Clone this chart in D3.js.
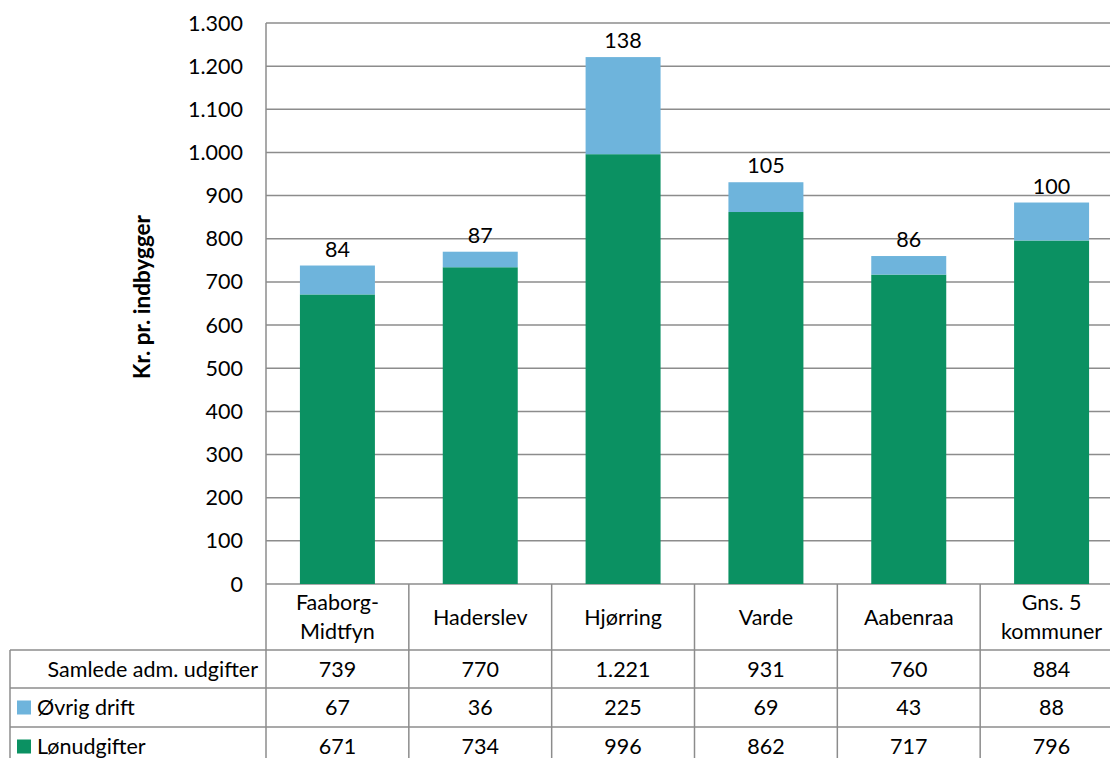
<!DOCTYPE html>
<html><head><meta charset="utf-8">
<script src="https://cdn.jsdelivr.net/npm/d3@7"></script>
<style>
html,body{margin:0;padding:0;background:#fff;}
svg{display:block;font-family:Lato,"Open Sans",sans-serif;}
</style></head>
<body>
<svg id="c" width="1110" height="758"></svg>
<script>
const categories = [["Faaborg-","Midtfyn"],["Haderslev"],["Hjørring"],["Varde"],["Aabenraa"],["Gns. 5","kommuner"]];
const catKeys = ["Faaborg-Midtfyn","Haderslev","Hjørring","Varde","Aabenraa","Gns. 5 kommuner"];
const lonudgifter = [671, 734, 996, 862, 717, 796];
const ovrigDrift = [67, 36, 225, 69, 43, 88];
const samlede = ["739","770","1.221","931","760","884"];
const topLabels = [84, 87, 138, 105, 86, 100];
const yTicks = [0,100,200,300,400,500,600,700,800,900,1000,1100,1200,1300];
const seriesNames = ["Øvrig drift","Lønudgifter"];
const colors = {green:"#0B9162", blue:"#6EB4DC", grid:"#8C8C8C"};

(function(){
const svg = d3.select("#c");
const pLeft = 266, pRight = 1123, pTop = 23, pBottom = 584;
const FS = 21.5;
const x = d3.scaleBand().domain(catKeys).range([pLeft, pRight]).paddingInner(0).paddingOuter(0);
const y = d3.scaleLinear().domain([0,1300]).range([pBottom, pTop]);
const fmt = v => d3.format(",")(v).replace(/,/g,".");

// gridlines
svg.append("g").selectAll("line").data(yTicks).join("line")
  .attr("x1", pLeft).attr("x2", pRight)
  .attr("y1", d=>y(d)).attr("y2", d=>y(d))
  .attr("stroke", colors.grid).attr("stroke-width", 1.5);

// y tick labels
svg.append("g").selectAll("text").data(yTicks).join("text")
  .attr("x", 243).attr("y", d=>y(d)).attr("dy","0.35em")
  .attr("text-anchor","end").attr("font-size",FS).attr("fill","#000")
  .text(d=>fmt(d));

// y title
svg.append("text").attr("transform","translate(142,297) rotate(-90)")
  .attr("text-anchor","middle").attr("dy","0.35em").attr("font-size",22.5).attr("font-weight","bold")
  .text("Kr. pr. indbygger");

// bars
const bw = x.bandwidth()*0.525;
const bars = svg.append("g");
catKeys.forEach((k,i)=>{
  const cx = x(k) + x.bandwidth()/2;
  bars.append("rect").attr("x", cx-bw/2).attr("width", bw)
    .attr("y", y(lonudgifter[i])).attr("height", y(0)-y(lonudgifter[i]))
    .attr("fill", colors.green);
  const t = lonudgifter[i]+ovrigDrift[i];
  bars.append("rect").attr("x", cx-bw/2).attr("width", bw)
    .attr("y", y(t)).attr("height", y(lonudgifter[i])-y(t))
    .attr("fill", colors.blue);
  svg.append("text").attr("x", cx).attr("y", y(t)-9)
    .attr("text-anchor","middle").attr("font-size",FS).text(topLabels[i]);
});

// table
const tg = svg.append("g").attr("stroke", colors.grid).attr("stroke-width",1.5);
const rowY = [650, 688, 727, 766];
tg.append("line").attr("x1",pLeft).attr("x2",pLeft).attr("y1",pTop).attr("y2",758);
rowY.forEach(ry=> tg.append("line").attr("x1",10).attr("x2",pRight).attr("y1",ry).attr("y2",ry));
tg.append("line").attr("x1",10).attr("x2",10).attr("y1",650).attr("y2",758);
catKeys.forEach(k=>{
  tg.append("line").attr("x1",x(k)+x.bandwidth()).attr("x2",x(k)+x.bandwidth()).attr("y1",pBottom).attr("y2",758);
});

// category labels and values
catKeys.forEach((k,i)=>{
  const cx = x(k)+x.bandwidth()/2;
  const lines = categories[i];
  const cy = 617;
  lines.forEach((ln,j)=>{
    svg.append("text").attr("x",cx).attr("y", cy + (j-(lines.length-1)/2)*29)
      .attr("dy","0.35em").attr("text-anchor","middle").attr("font-size",FS).text(ln);
  });
  svg.append("text").attr("x",cx).attr("y",(650+688)/2).attr("dy","0.35em")
    .attr("text-anchor","middle").attr("font-size",FS).text(samlede[i]);
  svg.append("text").attr("x",cx).attr("y",(688+727)/2).attr("dy","0.35em")
    .attr("text-anchor","middle").attr("font-size",FS).text(ovrigDrift[i]);
  svg.append("text").attr("x",cx).attr("y",(727+766)/2).attr("dy","0.35em")
    .attr("text-anchor","middle").attr("font-size",FS).text(lonudgifter[i]);
});

// row headers
svg.append("text").attr("x",258).attr("y",(650+688)/2).attr("dy","0.35em")
  .attr("text-anchor","end").attr("font-size",FS).text("Samlede adm. udgifter");
[[seriesNames[0],colors.blue,(688+727)/2],[seriesNames[1],colors.green,(727+766)/2]].forEach(([n,c,cy])=>{
  svg.append("rect").attr("x",17).attr("y",cy-7).attr("width",14).attr("height",14).attr("fill",c);
  svg.append("text").attr("x",37).attr("y",cy).attr("dy","0.35em").attr("font-size",FS).text(n);
});
})();
</script>
</body></html>
